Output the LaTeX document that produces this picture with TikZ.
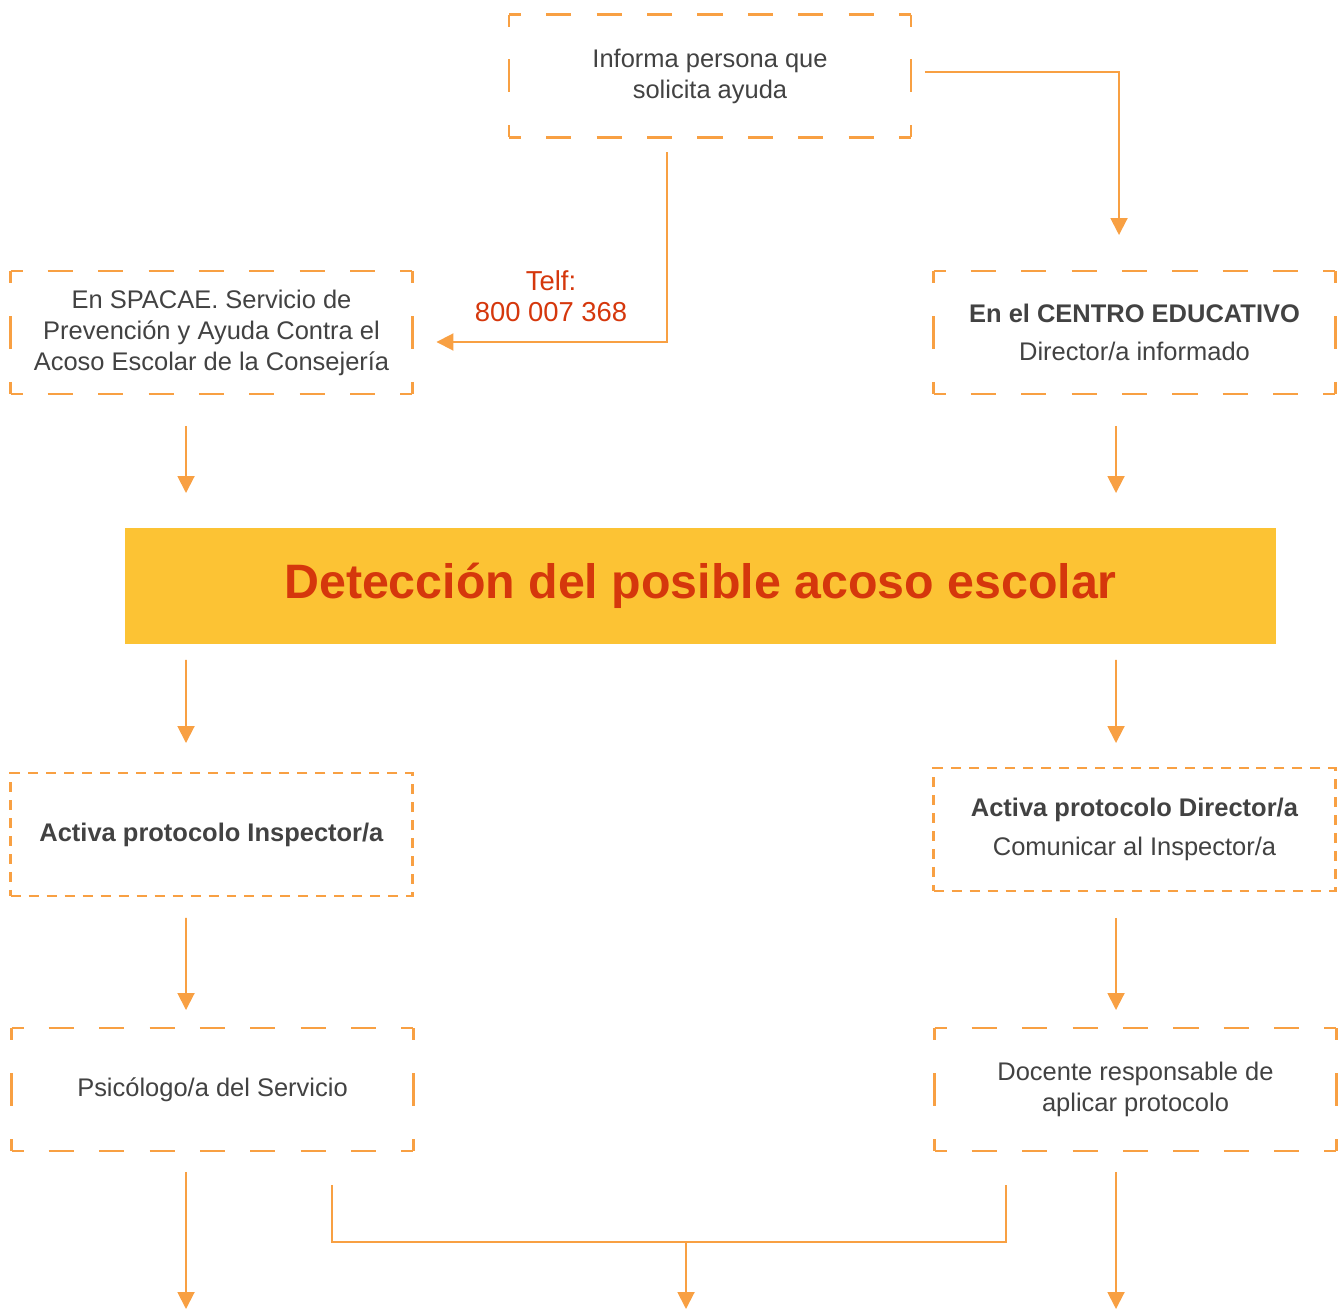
\documentclass[tikz,border=0pt]{standalone}
\usepackage{fontspec}
\setmainfont{Liberation Sans}
\usetikzlibrary{arrows.meta}

\definecolor{naranja}{HTML}{F8A043}
\definecolor{gris}{HTML}{424242}
\definecolor{rojo}{HTML}{D5370C}
\definecolor{amarillo}{HTML}{FCC334}

\tikzset{
  caja/.style={minimum width=8.04cm, minimum height=2.46cm, inner sep=0pt,
    outer sep=0pt, align=center, text=gris,
    font=\fontsize{14.5}{17.6}\selectfont},
  cajacorta/.style={caja, draw=naranja, line width=1.4pt,
    dash pattern=on 0.2cm off 0.16cm},
  ladoh/.style={naranja, line width=1.4pt,
    dash pattern=on 0.504cm off 0.504cm, dash phase=0.264cm},
  ladov/.style={naranja, line width=1.4pt,
    dash pattern=on 0.66cm off 0.66cm, dash phase=0.42cm},
  linea/.style={naranja, line width=1.1pt},
  flecha/.style={linea, -{Triangle[width=0.34cm,length=0.34cm]}}
}

% borde de trazos largos, lado por lado
\newcommand{\marco}[1]{%
  \draw[ladoh] (#1.north west) -- (#1.north east);
  \draw[ladoh] (#1.south west) -- (#1.south east);
  \draw[ladov] (#1.north west) -- (#1.south west);
  \draw[ladov] (#1.north east) -- (#1.south east);
}

\begin{document}
\begin{tikzpicture}[x=0.02cm, y=-0.02cm]
\useasboundingbox (0,0) rectangle (1344,1310);

% cajas
\node[caja] (informa) at (710,76) {Informa persona que\\solicita ayuda};
\node[caja] (spacae) at (211.5,332.5) {En SPACAE. Servicio de\\Prevención y Ayuda Contra el\\Acoso Escolar de la Consejería};
\node[caja] (centro) at (1134.5,332.5) {\textbf{En el CENTRO EDUCATIVO}\\[4.4pt]Director/a informado};
\node[fill=amarillo, minimum width=23.02cm, minimum height=2.32cm, inner sep=0pt,
  outer sep=0pt, text=rojo, font=\fontsize{27.5}{33}\selectfont\bfseries]
  (deteccion) at (700.5,586) {Detección del posible acoso escolar};
\node[cajacorta] (inspector) at (211.5,834.5) {\textbf{Activa protocolo Inspector/a}};
\node[cajacorta] (director) at (1134.5,829.5) {\textbf{Activa protocolo Director/a}\\[4.4pt]Comunicar al Inspector/a};
\node[caja] (psicologo) at (212.5,1089.5) {Psicólogo/a del Servicio};
\node[caja] (docente) at (1135.5,1089.5) {Docente responsable de\\aplicar protocolo};

\foreach \n in {informa,spacae,centro,psicologo,docente}
  \marco{\n};

% telefono
\node[text=rojo, align=center, font=\fontsize{15.6}{17.6}\selectfont]
  (telf) at (551,296) {Telf:\\800 007 368};

\coordinate (union) at (686,1242);
\coordinate (fin) at (0,1309);

% conexiones
\draw[flecha, shorten <=0.28cm, shorten >=0.72cm]
  ([yshift=0.08cm]informa.east) -| ([xshift=-0.31cm]centro.north);
\draw[flecha, shorten <=0.3cm, shorten >=0.48cm]
  ([xshift=-0.86cm]informa.south) |- ([yshift=-0.19cm]spacae.east);

\draw[flecha, shorten <=0.64cm, shorten >=0.7cm]
  ([xshift=-0.51cm]spacae.south) -- ([xshift=-0.51cm]spacae.south |- deteccion.north);
\draw[flecha, shorten <=0.64cm, shorten >=0.7cm]
  ([xshift=-0.37cm]centro.south) -- ([xshift=-0.37cm]centro.south |- deteccion.north);

\draw[flecha, shorten <=0.32cm, shorten >=0.6cm]
  (spacae.south |- deteccion.south) ++(-25.5,0) -- ([xshift=-0.51cm]inspector.north);
\draw[flecha, shorten <=0.32cm, shorten >=0.5cm]
  (centro.south |- deteccion.south) ++(-18.5,0) -- ([xshift=-0.37cm]director.north);

\draw[flecha, shorten <=0.44cm, shorten >=0.36cm]
  ([xshift=-0.51cm]inspector.south) -- ([xshift=-0.53cm]psicologo.north);
\draw[flecha, shorten <=0.54cm, shorten >=0.36cm]
  ([xshift=-0.37cm]director.south) -- ([xshift=-0.39cm]docente.north);

\draw[flecha, shorten <=0.42cm]
  ([xshift=-0.53cm]psicologo.south) -- ([xshift=-0.53cm]psicologo.south |- fin);
\draw[flecha, shorten <=0.42cm]
  ([xshift=-0.39cm]docente.south) -- ([xshift=-0.39cm]docente.south |- fin);

\draw[linea] ([xshift=2.39cm,yshift=-0.68cm]psicologo.south) |- (union)
  -| ([xshift=-2.59cm,yshift=-0.68cm]docente.south);
\draw[flecha] (union) -- (union |- fin);
\end{tikzpicture}
\end{document}
